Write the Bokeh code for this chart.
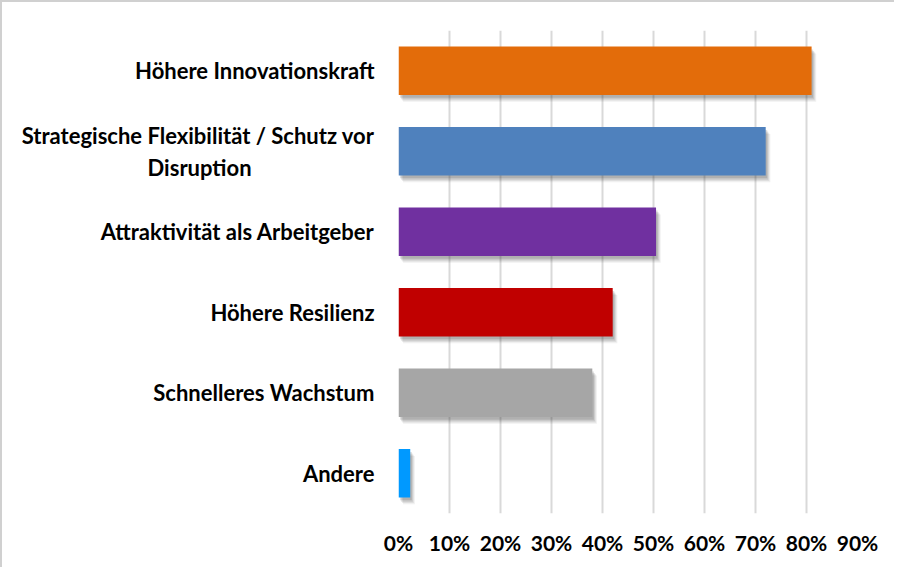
from bokeh.plotting import figure
from bokeh.models import ColumnDataSource, FactorRange, NumeralTickFormatter, FixedTicker
from bokeh.transform import dodge
from bokeh.embed import file_html
from bokeh.resources import INLINE

categories = [
    "Höhere Innovationskraft",
    "Strategische Flexibilität / Schutz vor\nDisruption" + "\u00a0" * 23,
    "Attraktivität als Arbeitgeber",
    "Höhere Resilienz",
    "Schnelleres Wachstum",
    "Andere",
]
values = [0.81, 0.72, 0.505, 0.42, 0.38, 0.023]
colors = ["#E36C0A", "#4F81BD", "#7030A0", "#C00000", "#A6A6A6", "#0099FF"]
x_ticks = [0.0, 0.1, 0.2, 0.3, 0.4, 0.5, 0.6, 0.7, 0.8, 0.9]

src = ColumnDataSource(dict(cat=categories, val=values, color=colors))

p = figure(
    width=894, height=567,
    y_range=FactorRange(factors=list(reversed(categories)), range_padding=0),
    x_range=(0, 0.9),
    output_backend="svg", toolbar_location=None,
    min_border_left=396, min_border_top=28, min_border_right=39, min_border_bottom=56,
    styles={"border-left": "2px solid #d0d0d0", "border-top": "2px solid #d0d0d0"},
)
p.outline_line_color = None
p.background_fill_color = "white"

# soft drop shadow (layered, offset right/down)
for dx, dy, a in [(0.009, -0.085, 0.07), (0.007, -0.07, 0.09), (0.005, -0.055, 0.12), (0.003, -0.035, 0.16)]:
    p.hbar(y=dodge("cat", dy, range=p.y_range), left=dx, right=dodge("val", dx),
           height=0.6, source=src, fill_color="#303030", fill_alpha=a, line_color=None)

p.hbar(y="cat", left=0, right="val", height=0.6, source=src,
       fill_color="color", line_color=None)

p.xaxis.ticker = FixedTicker(ticks=x_ticks)
p.xaxis.formatter = NumeralTickFormatter(format="0%")
p.xgrid.ticker = FixedTicker(ticks=x_ticks)
p.xgrid.grid_line_color = "#d9d9d9"
p.xgrid.grid_line_width = 2
p.ygrid.grid_line_color = None

for ax in (p.xaxis, p.yaxis):
    ax.axis_line_color = None
    ax.major_tick_line_color = None
    ax.minor_tick_line_color = None
    ax.major_label_text_font = "Lato"
    ax.major_label_text_font_style = "bold"
    ax.major_label_text_color = "black"

p.xaxis.major_label_text_font_size = "21px"
p.yaxis.major_label_text_font_size = "22px"
p.xaxis.major_label_standoff = 10
p.yaxis.major_label_standoff = 18

open("out.html", "w").write(file_html(p, INLINE))
